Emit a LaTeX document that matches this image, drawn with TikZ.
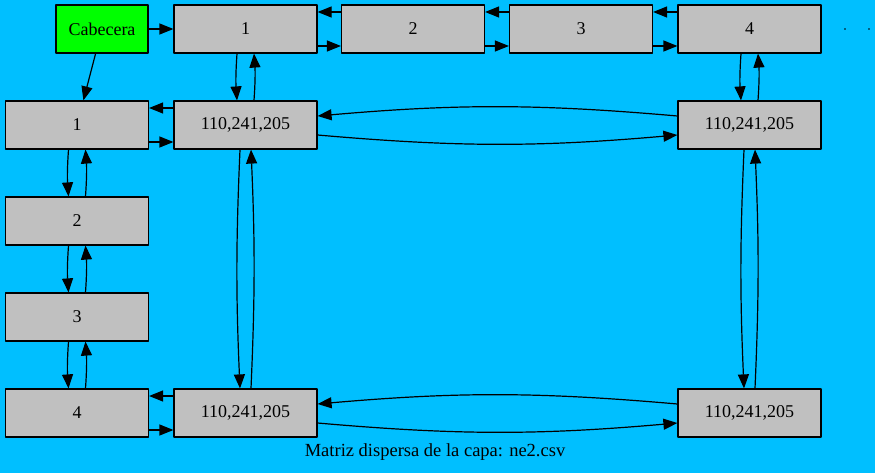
\documentclass[tikz,border=0pt]{standalone}
\usepackage{fontspec}
\setmainfont{Liberation Serif}
\usetikzlibrary{arrows.meta}
\definecolor{fondo}{RGB}{0,191,255}
\definecolor{celda}{RGB}{192,192,192}
\definecolor{verde}{RGB}{0,255,0}
\tikzset{>={Triangle[length=14pt,width=11pt]},
every picture/.append style={
    line join=round,
    line width=1.2pt
  },
nodo/.style={draw,fill=celda,minimum width=143pt,minimum height=48pt,inner sep=0pt,font=\fontsize{18}{20}\selectfont},
cabeza/.style={nodo,fill=verde,minimum width=92pt},
punto/.style={circle,fill=black,inner sep=0pt,minimum size=1.6pt}}

\begin{document}
\begin{tikzpicture}[x=1pt,y=-1pt]
        \fill [fondo] (0,0) rectangle (875,473);
        \useasboundingbox (0,0) rectangle (875,473);
        % cabecera y columnas
        \node [cabeza] (cab) at (102,29) {Cabecera};
        \node [nodo] (c1) at (245.5,29) {1};
        \node [nodo] (c2) at (413,29) {2};
        \node [nodo] (c3) at (581,29) {3};
        \node [nodo] (c4) at (749.5,29) {4};
        \node [punto] (p1) at (845,29) {};
        \node [punto] (p2) at (869,29) {};
        % filas
        \node [nodo] (f1) at (77,125) {1};
        \node [nodo] (f2) at (77,221) {2};
        \node [nodo] (f3) at (77,317) {3};
        \node [nodo] (f4) at (77,413) {4};
        % celdas
        \node [nodo] (m11) at (245.5,125) {110,241,205};
        \node [nodo] (m14) at (749.5,125) {110,241,205};
        \node [nodo] (m41) at (245.5,413) {110,241,205};
        \node [nodo] (m44) at (749.5,413) {110,241,205};
        \node [font=\fontsize{18.5}{20}\selectfont] (titulo) at (435,452) {Matriz dispersa de la capa: ne2.csv};
        \draw [->] (cab) -- (c1);
        \draw [->] (cab) -- (f1);
        \foreach \a/\b in {c1/c2,c2/c3,c3/c4,f1/m11,f4/m41} {
            \draw [->] ([yshift=-17pt]\a.east) -- ([yshift=-17pt]\b.west);
            \draw [->] ([yshift=17pt]\b.west) -- ([yshift=17pt]\a.east);
        }
        \foreach \a/\b in {f1/f2,f2/f3,f3/f4,c1/m11,c4/m14} {
            \draw [->] ([xshift=-8.5pt]\a.south) to [bend right=4] ([xshift=-8.5pt]\b.north);
            \draw [->] ([xshift=8.5pt]\b.north) to [bend right=4] ([xshift=8.5pt]\a.south);
        }
        \foreach \a/\b in {m11/m14,m41/m44} {
            \draw [->] ([yshift=-10pt]\a.east) to [bend right=5] ([yshift=-10pt]\b.west);
            \draw [->] ([yshift=9pt]\b.west) to [bend right=5] ([yshift=9pt]\a.east);
        }
        \foreach \a/\b in {m11/m41,m14/m44} {
            \draw [->] ([xshift=-5.5pt]\a.south) to [bend right=2.5] ([xshift=-5.5pt]\b.north);
            \draw [->] ([xshift=5.5pt]\b.north) to [bend right=2.5] ([xshift=5.5pt]\a.south);
        }
    \end{tikzpicture}
\end{document}
